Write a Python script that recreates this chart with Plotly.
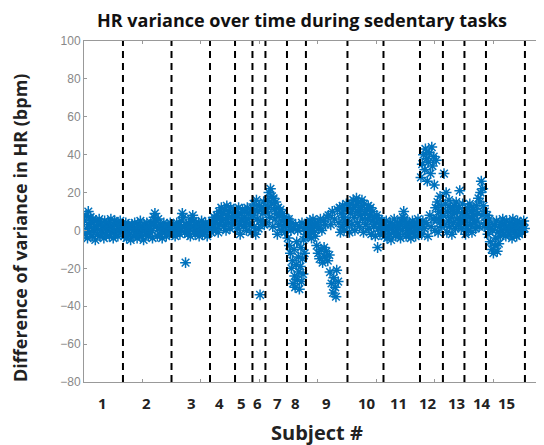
import numpy as np
import plotly.graph_objects as go

# Subject boundaries (sample index) - end of each subject's segment
boundaries = [333, 748, 1077, 1291, 1440, 1551, 1735, 1897, 2252, 2560, 2872, 3068, 3252, 3436, 3769]
subject_labels = ["1", "2", "3", "4", "5", "6", "7", "8", "9", "10", "11", "12", "13", "14", "15"]
label_positions = [162, 530, 923, 1162, 1350, 1479, 1650, 1812, 2077, 2419, 2684, 2940, 3188, 3402, 3615]

# Difference of variance in HR (bpm), per subject, in time order
s1 = [5, -2, 8, 1, -4, 10, 3, -1, 7, 4, -3, 6, 0, 2, -5, 5, 1, -2, 3, 6, -3, 0, 4, -1, 2,
      -4, 5, 1, -2, 3, 0, 4, -3, 2, 6, -1, 1, -4, 3, 5, -2, 0, 4, -3, 2, 1, 5, -1, 3, 0]
s2 = [2, -3, 1, 4, -4, 0, 3, -2, 2, -5, 1, 3, -3, 0, 4, -2, 1, -4, 3, 0, -2, 5, 2, -3, 1, -5, 3, 0, -2, 4,
      1, -3, 2, -1, 4, 0, -4, 3, 7, 9, 5, 2, -3, 6, 1, -2, 3, 0, -4, 2, 4, -1, 1, -3, 3, 0, 2, -2, 4, 1]
s3 = [1, -2, 3, 0, -3, 2, 4, -1, 1, 3, -2, 0, 5, 9, 7, 2, -1, -17, 3, 0, -2, 4, 1, -3,
      6, 2, 8, 5, 0, -2, 3, 1, -1, 4, -3, 2, 0, 5, -2, 3, 1, -1, 4, 2, -3, 0, 3, 1]
s4 = [2, -1, 5, 3, 0, 7, 4, 1, 8, 6, -1, 10, 3, 7, 12, 5, 9, 2, 11, 6, 0, 13, 8, 4, 10, 1, 12, 7, 3, 9, 11, 5]
s5 = [6, 10, 1, 8, 12, 3, -2, 9, 5, 11, 2, 7, 10, 4, 0, 12, 6, 9, 3, 11, -1, 7]
s6 = [8, 14, 2, 11, -2, 16, 6, 10, 1, 13, -34, 5, 12, 4, 9, 15, 3, 11]
s7 = [10, 4, 16, 12, 20, 7, 22, 14, 18, 2, 17, 11, 6, 15, 9, -2, 12, 3, 8, 11, 0, 5, 9, 2, 7, -1, 4, 6]
s8 = [5, -4, 2, 6, -8, 3, -12, 0, -20, 4, -16, -28, 1, -10, -24, -30, 3, -18,
      -6, -26, 0, -14, -22, -31, 2, -19, -9, -27, 4, -15, -23, -5, 1, -12, 3, -2]
s9 = [2, -3, 4, 0, -2, 5, 1, -4, 3, 6, -1, 2, -3, 4,
      -8, 4, -12, 1, -15, 6, -10, 0, -17, 5, -9, -14, 3, -11, 7, -16,
      8, -13, -22, 3, -28, 10, -33, -25, 6, -30, -35, -21, 11, -27,
      4, 12, -1, 9, 2, 13, 7, 0, 11, 5, 14, 3]
s10 = [5, 12, -1, 9, 14, 3, 11, 16, 7, 0, 13, 17, 4, 10, 15, 2, 8, 12, 16, 6, -1, 14, 9,
       3, 11, 6, 13, 1, 8, 12, -2, 5, 10, 2, 7, -3, 4, 8, -9, 1, 6, -2, 3, 5, 0, 4]
s11 = [3, -3, 1, 5, -4, 0, 2, -2, 4, -5, 1, 3, -1, 6, 2, -3, 0, 4, -2, 1, 3, -4, 5,
       0, 7, 10, 6, 2, -3, 4, 0, -2, 3, 1, -4, 2, 5, -1, 3, 0, -3, 4, 1, 6, -2, 2]
s12 = [3, 28, -2, 35, 5, 40, 1, 32, 43, 4, 38, 26, -3, 36, 41, 8, 30, 2,
       44, 34, 6, 39, 24, 0, 12, 37, 6, 15, -1, 10, 4, 18, 7, 13, 2, 9]
s13 = [8, 30, 3, 14, 20, -1, 10, 5, 16, 2, 12, 7, -2, 11, 4, 13, 9, 1, 15, 6, 10, 3, 12, 21, 6, 1, 9, 14, 4, 7]
s14 = [5, -2, 9, 2, 12, 0, 7, 14, 3, 10, -1, 6, 11, 4, 8, 1, 13, 5, 9, 17, 2, 15, 20, 26, 8, 22, 13, 2, 10, 4]
s15 = [4, 8, -2, 2, 6, -6, 1, -10, 0, -12, 3, -8, -4, 5, -11, -1, -7, 2, -3, 4, 0, 6, -2, 3, 1,
       -3, 5, 0, 2, -2, 4, 1, 3, -4, 6, 0, -1, 3, 2, -3, 5, 1, -2, 4, 0, 2, -1, 3, 5, 1]

subjects = [s1, s2, s3, s4, s5, s6, s7, s8, s9, s10, s11, s12, s13, s14, s15]

# sample index of each value: evenly spaced samples inside each subject's segment
xs, ys = [], []
start = 0
for seg_end, vals in zip(boundaries, subjects):
    n = len(vals)
    step = (seg_end - start) / n
    xs.extend(start + step * (i + 0.5) for i in range(n))
    ys.extend(vals)
    start = seg_end

fig = go.Figure()
fig.add_trace(go.Scatter(
    x=xs, y=ys, mode="markers",
    marker=dict(symbol="asterisk-open", size=9, color="#0072BD",
                line=dict(color="#0072BD", width=1.5)),
    hoverinfo="skip", showlegend=False,
))

for b in boundaries:
    fig.add_shape(type="line", xref="x", yref="paper", x0=b, x1=b, y0=0, y1=1,
                  line=dict(color="black", width=2, dash="7px,5px"), layer="above")

for lab, pos in zip(subject_labels, label_positions):
    fig.add_annotation(x=pos, y=0, xref="x", yref="paper", text=lab, showarrow=False,
                       yshift=-21, yanchor="middle",
                       font=dict(family="Open Sans", size=15, color="#222222", weight="bold"))

fig.add_annotation(x=0.5065, y=0, xref="paper", yref="paper", text="Subject #", showarrow=False,
                   yshift=-50, yanchor="middle",
                   font=dict(family="Open Sans", size=20, color="#222222", weight="bold"))
fig.add_annotation(x=0, y=0.4516, xref="paper", yref="paper", text="Difference of variance in HR (bpm)",
                   showarrow=False, xshift=-64, textangle=-90, xanchor="center", yanchor="middle",
                   font=dict(family="Open Sans", size=18, color="#222222", weight="bold"))

fig.update_layout(
    width=536, height=437,
    margin=dict(l=76, r=0, t=33, b=63),
    paper_bgcolor="white", plot_bgcolor="white",
    title=dict(text="HR variance over time during sedentary tasks", x=0.5485, xanchor="center",
               y=0.970, yanchor="middle",
               font=dict(family="Open Sans", size=18, color="#111111", weight="bold")),
    xaxis=dict(range=[0, 3932], tickvals=[500, 1000, 1500, 2000, 2500, 3000, 3500],
               showticklabels=False, ticks="inside", ticklen=3, tickcolor="#999999",
               showline=True, linecolor="#999999", linewidth=1, mirror="ticks",
               showgrid=False, zeroline=False),
    yaxis=dict(range=[-80, 100], tickvals=list(range(-80, 101, 20)),
               ticks="inside", ticklen=3, tickcolor="#999999",
               tickfont=dict(family="Liberation Sans", size=12, color="#888888"),
               showline=True, linecolor="#999999", linewidth=1, mirror=False,
               showgrid=False, zeroline=False),
)

fig.write_html("out.html")
